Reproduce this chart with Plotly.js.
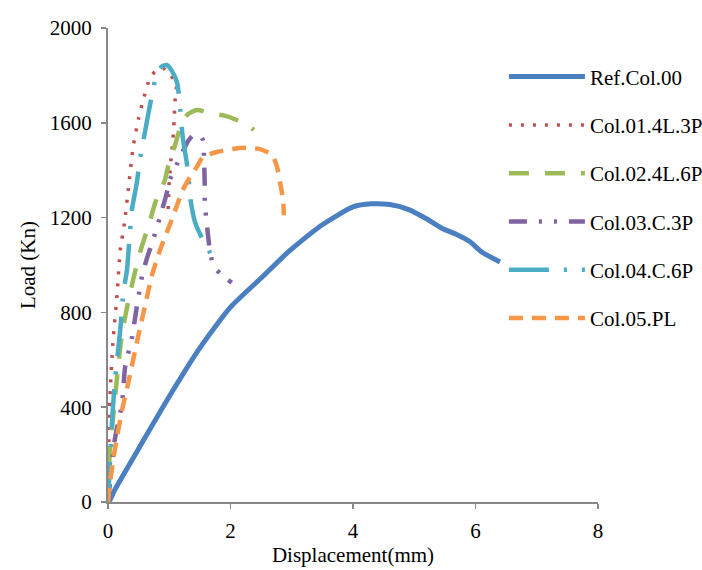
<!DOCTYPE html>
<html>
<head>
<meta charset="utf-8">
<script src="https://cdn.plot.ly/plotly-3.0.1.min.js"></script>
<style>body{margin:0;background:#fff;} #chart{width:702px;height:570px;}</style>
</head>
<body>
<div id="chart"></div>
<script>
// Ref.Col.00
var refX = [0,0.03,0.11,0.5,1.0,1.5,2.0,2.5,2.9,3.0,3.5,4.0,4.3,4.6,4.9,5.2,5.45,5.7,5.9,6.1,6.4];
var refY = [0,8,51,225,445,650,822,945,1045,1068,1170,1245,1258,1255,1235,1195,1155,1128,1100,1055,1013];
// Col.01.4L.3P
var c01X = [0,0.01,0.03,0.08,0.15,0.2,0.27,0.33,0.41,0.5,0.6,0.68,0.78,0.9,1.02,1.12,1.1,1.08,1.06,1.03,1.0,0.98];
var c01Y = [0,200,430,671,882,1063,1180,1316,1498,1620,1720,1785,1820,1830,1800,1765,1717,1612,1530,1450,1350,1220];
// Col.02.4L.6P
var c02X = [0,0.03,0.1,0.16,0.23,0.36,0.45,0.52,0.57,0.69,0.77,0.93,0.98,1.12,1.18,1.3,1.45,1.67,1.9,2.1,2.32,2.38];
var c02Y = [0,219,400,557,713,882,980,1051,1093,1190,1262,1359,1414,1527,1582,1635,1654,1641,1630,1612,1582,1570];
// Col.03.C.3P
var c03X = [0,0.11,0.23,0.28,0.39,0.47,0.56,0.65,0.72,0.85,0.96,1.01,1.18,1.3,1.39,1.5,1.55,1.57,1.58,1.58,1.62,1.67,1.73,1.85,2.02];
var c03Y = [0,262,418,570,692,823,958,1040,1093,1203,1304,1359,1456,1520,1548,1548,1527,1430,1329,1262,1156,1051,992,960,925];
// Col.04.C.6P
var c04X = [0,0.07,0.11,0.2,0.25,0.31,0.34,0.39,0.47,0.52,0.64,0.72,0.8,0.88,0.96,1.04,1.13,1.18,1.22,1.31,1.34,1.42,1.55,1.70,1.73];
var c04Y = [0,359,502,726,882,979,1076,1232,1346,1443,1612,1720,1810,1838,1844,1820,1768,1654,1540,1388,1287,1181,1105,1034,1000];
// Col.05.PL
var c05X = [0,0.03,0.11,0.23,0.33,0.49,0.6,0.72,0.85,0.93,1.04,1.14,1.22,1.34,1.45,1.55,1.78,2.16,2.48,2.68,2.76,2.81,2.86,2.87];
var c05Y = [0,80,219,388,502,696,823,958,1063,1118,1190,1262,1316,1371,1414,1456,1477,1494,1489,1464,1414,1346,1274,1210];

var names = ["Ref.Col.00","Col.01.4L.3P","Col.02.4L.6P","Col.03.C.3P","Col.04.C.6P","Col.05.PL"];
var xTicks = [0,2,4,6,8];
var yTicks = [0,400,800,1200,1600,2000];

function tr(x, y, i, color, width, dash) {
  return {x: x, y: y, name: names[i], type: 'scatter', mode: 'lines', legendgroup: 'g' + i,
    line: {color: color, width: width, dash: dash, shape: 'spline', smoothing: 0.6}};
}
var data = [
  tr(refX, refY, 0, '#4a7fc1', 5, 'solid'),
  tr(c01X, c01Y, 1, '#c0504d', 3.5, '3px,9px'),
  tr(c02X, c02Y, 2, '#9bbb59', 4.5, '20px,16px'),
  tr(c03X, c03Y, 3, '#8064a2', 4.5, '18px,12px,3px,12px,3px,12px'),
  tr(c04X, c04Y, 4, '#4bacc6', 4.5, '40px,15px,3px,15px'),
  tr(c05X, c05Y, 5, '#f79646', 4.5, '14px,9px')
];
var fam = 'Liberation Serif, Times New Roman, serif';
var font = {family: fam, color: '#000', size: 21};
var layout = {
  width: 702, height: 570,
  margin: {l: 108, r: 104, t: 28, b: 68, autoexpand: false},
  paper_bgcolor: '#fff', plot_bgcolor: '#fff',
  font: font,
  showlegend: true,
  legend: {x: 0.808, y: 0.94, xanchor: 'left', yanchor: 'top', itemwidth: 76,
    tracegroupgap: 18, font: {family: fam, size: 21, color: '#000'}, bgcolor: 'rgba(0,0,0,0)'},
  xaxis: {range: [0, 8], tickvals: xTicks, ticktext: xTicks.map(String), showgrid: false, zeroline: false,
    showline: true, linecolor: '#888', linewidth: 2, ticks: 'outside', ticklen: 5, tickcolor: '#888', tickwidth: 1.5,
    ticklabelstandoff: 4,
    tickfont: {family: fam, size: 21, color: '#000'},
    title: {text: 'Displacement(mm)', font: {family: fam, size: 21, color: '#000'}, standoff: 4}},
  yaxis: {range: [0, 2000], tickvals: yTicks, ticktext: yTicks.map(String), showgrid: false, zeroline: false,
    showline: true, linecolor: '#888', linewidth: 2, ticks: 'outside', ticklen: 5, tickcolor: '#888', tickwidth: 1.5,
    ticklabelstandoff: 5,
    tickfont: {family: fam, size: 21, color: '#000'},
    title: {text: 'Load (Kn)', font: {family: fam, size: 21, color: '#000'}, standoff: 8}}
};
Plotly.newPlot('chart', data, layout, {displayModeBar: false, staticPlot: true});
</script>
</body>
</html>
